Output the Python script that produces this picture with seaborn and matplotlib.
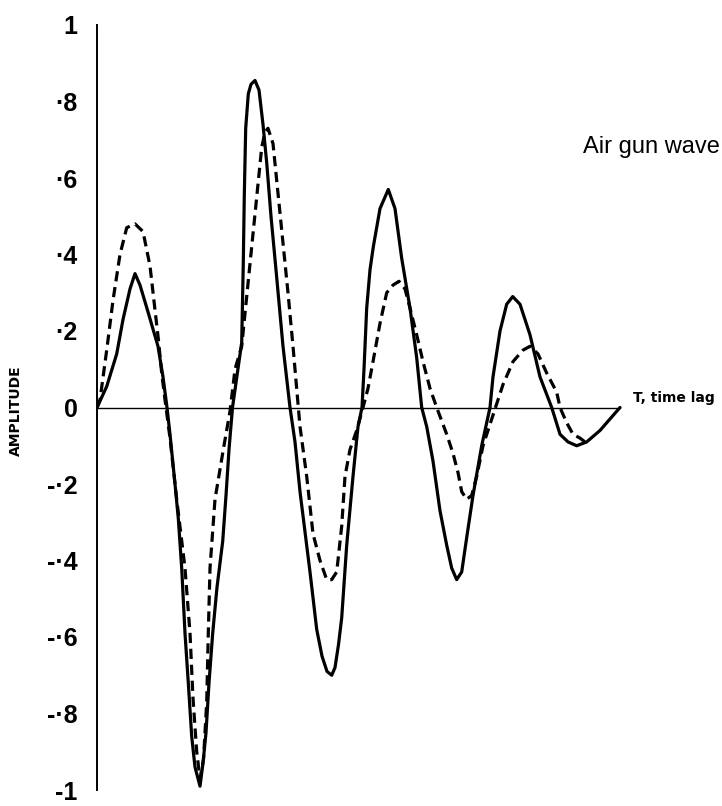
import matplotlib
matplotlib.use("Agg")
import matplotlib.pyplot as plt
import seaborn as sns
import pandas as pd

# ---- data (T = time lag in arbitrary units, amplitude normalised) ----
# solid wavelet (each line of solid_t pairs with the same line of solid_v)
solid_t = [0, 9.7, 19.7, 26, 33, 38, 43, 51, 61, 66,
           70, 73, 78, 81.3, 84.7, 88, 91.3, 94.7, 98, 103,
           106, 109, 112, 115.7, 120, 125.7, 129, 132, 135.5, 144.7,
           146.3, 147.3, 148.7, 151.3, 154, 158, 162, 166, 169.7, 174,
           179.7, 186, 193, 198, 203, 213, 219.7, 225, 230, 234.7,
           238, 241.5, 244.7, 249.7, 256, 261, 265, 267, 269.7, 273,
           276.3, 283, 291.3, 298, 304.7, 313, 319.7, 324.7, 329.7, 336,
           343, 349.7, 354.7, 359.7, 364.7, 369.7, 376, 384.7, 393, 396,
           403, 409.7, 415.7, 423, 433, 443, 454.7, 463, 471, 479.7,
           489.7, 503, 523]
solid_v = [0.0, 0.055, 0.14, 0.23, 0.31, 0.35, 0.32, 0.25, 0.16, 0.08,
           0.0, -0.07, -0.20, -0.29, -0.42, -0.59, -0.72, -0.86, -0.94, -0.99,
           -0.93, -0.85, -0.72, -0.59, -0.47, -0.35, -0.23, -0.11, 0.0, 0.17,
           0.38, 0.555, 0.73, 0.82, 0.845, 0.855, 0.83, 0.74, 0.64, 0.50,
           0.34, 0.16, 0.0, -0.09, -0.22, -0.43, -0.58, -0.65, -0.69, -0.70,
           -0.68, -0.62, -0.55, -0.36, -0.18, -0.05, 0.0, 0.10, 0.26, 0.36,
           0.42, 0.52, 0.57, 0.52, 0.39, 0.26, 0.13, 0.0, -0.05, -0.14,
           -0.27, -0.36, -0.42, -0.45, -0.43, -0.34, -0.23, -0.10, 0.0, 0.08,
           0.20, 0.27, 0.29, 0.27, 0.19, 0.08, 0.0, -0.07, -0.09, -0.10,
           -0.09, -0.06, 0.0]

# dashed wavelet
dashed_t = [0, 3, 9.7, 16, 23, 29.7, 38, 46, 53, 58,
            61.3, 64.7, 68, 73, 79.7, 88, 93, 96, 99.7, 103,
            106.5, 109.7, 111.3, 113, 118, 126.3, 133, 138, 144.7, 149.7,
            154.7, 159.7, 164.7, 168, 171, 176, 181, 186, 191, 196,
            201, 203, 209.7, 216, 223, 229.7, 234.7, 239.7, 244.7, 248,
            253, 259.7, 266, 271, 276, 283, 289.7, 296, 302, 308,
            313, 319.7, 326, 333, 339.7, 349.7, 356, 361, 364.7, 369.7,
            374.7, 379.7, 386, 396, 406, 416, 426, 433, 441, 449.7,
            459.7, 463, 469.7, 476, 483, 488, 493]
dashed_v = [0.0, 0.02, 0.15, 0.28, 0.40, 0.47, 0.48, 0.46, 0.37, 0.255,
            0.18, 0.09, 0.02, -0.08, -0.24, -0.42, -0.59, -0.76, -0.90, -0.97,
            -0.92, -0.77, -0.59, -0.42, -0.24, -0.11, -0.01, 0.10, 0.16, 0.29,
            0.42, 0.55, 0.68, 0.72, 0.73, 0.69, 0.56, 0.43, 0.30, 0.16,
            0.01, -0.05, -0.18, -0.33, -0.40, -0.45, -0.45, -0.43, -0.31, -0.18,
            -0.11, -0.06, 0.0, 0.05, 0.12, 0.22, 0.30, 0.32, 0.33, 0.31,
            0.26, 0.19, 0.12, 0.05, 0.0, -0.07, -0.12, -0.17, -0.22, -0.24,
            -0.23, -0.18, -0.10, -0.02, 0.06, 0.12, 0.15, 0.16, 0.14, 0.09,
            0.04, 0.0, -0.04, -0.07, -0.08, -0.09, -0.09]

ytick_vals = [-1, -0.8, -0.6, -0.4, -0.2, 0, 0.2, 0.4, 0.6, 0.8, 1]
ytick_labels = ["-1", "-·8", "-·6", "-·4", "-·2", "0", "·2", "·4", "·6", "·8", "1"]
axis_end = 523

sns.set_style("white")
plt.rcParams["font.family"] = ["Liberation Sans", "DejaVu Sans"]
plt.rcParams["text.color"] = "black"

fig = plt.figure(figsize=(7.22, 8.06), dpi=100)
ax = fig.add_axes([97 / 722, 1 - 790 / 806, 1 - 97 / 722, (790 - 25) / 806])

df_s = pd.DataFrame({"T": solid_t, "A": solid_v})
df_d = pd.DataFrame({"T": dashed_t, "A": dashed_v})

ax.plot([0, axis_end], [0, 0], color="black", lw=1.0, zorder=1)
sns.lineplot(data=df_s, x="T", y="A", ax=ax, color="black", lw=2.3,
             estimator=None, sort=False, zorder=3)
sns.lineplot(data=df_d, x="T", y="A", ax=ax, color="black", lw=2.3,
             estimator=None, sort=False, zorder=3)
for ln in ax.lines[1:]:
    ln.set_solid_joinstyle("round")
    ln.set_dash_joinstyle("round")
ax.lines[-1].set_dashes((3.2, 1.8))

ax.set_xlim(0, 625)
ax.set_ylim(-1, 1)
ax.set_xticks([])
ax.set_yticks(ytick_vals)
ax.set_yticklabels(ytick_labels, fontsize=18, fontweight="bold")
ax.tick_params(axis="y", direction="out", length=11, width=1.3, pad=3,
               colors="black")
for s in ["top", "right", "bottom"]:
    ax.spines[s].set_visible(False)
ax.spines["left"].set_linewidth(1.4)
ax.spines["left"].set_color("black")
ax.set_xlabel("")
ax.set_ylabel("")
ax.patch.set_alpha(0)

fig.text(16 / 722, 1 - 411 / 806, "AMPLITUDE", rotation=90, ha="center", va="center",
         fontsize=10, fontweight="bold", family="DejaVu Sans", color="black")
fig.text(633 / 722, 1 - 398 / 806, "T, time lag", ha="left", va="center",
         fontsize=10, fontweight="bold", family="DejaVu Sans", color="black")
fig.text(583 / 722, 1 - 153 / 806, "Air gun wave", ha="left", va="baseline",
         fontsize=17, color="black")

fig.savefig("out.png", dpi=100)
